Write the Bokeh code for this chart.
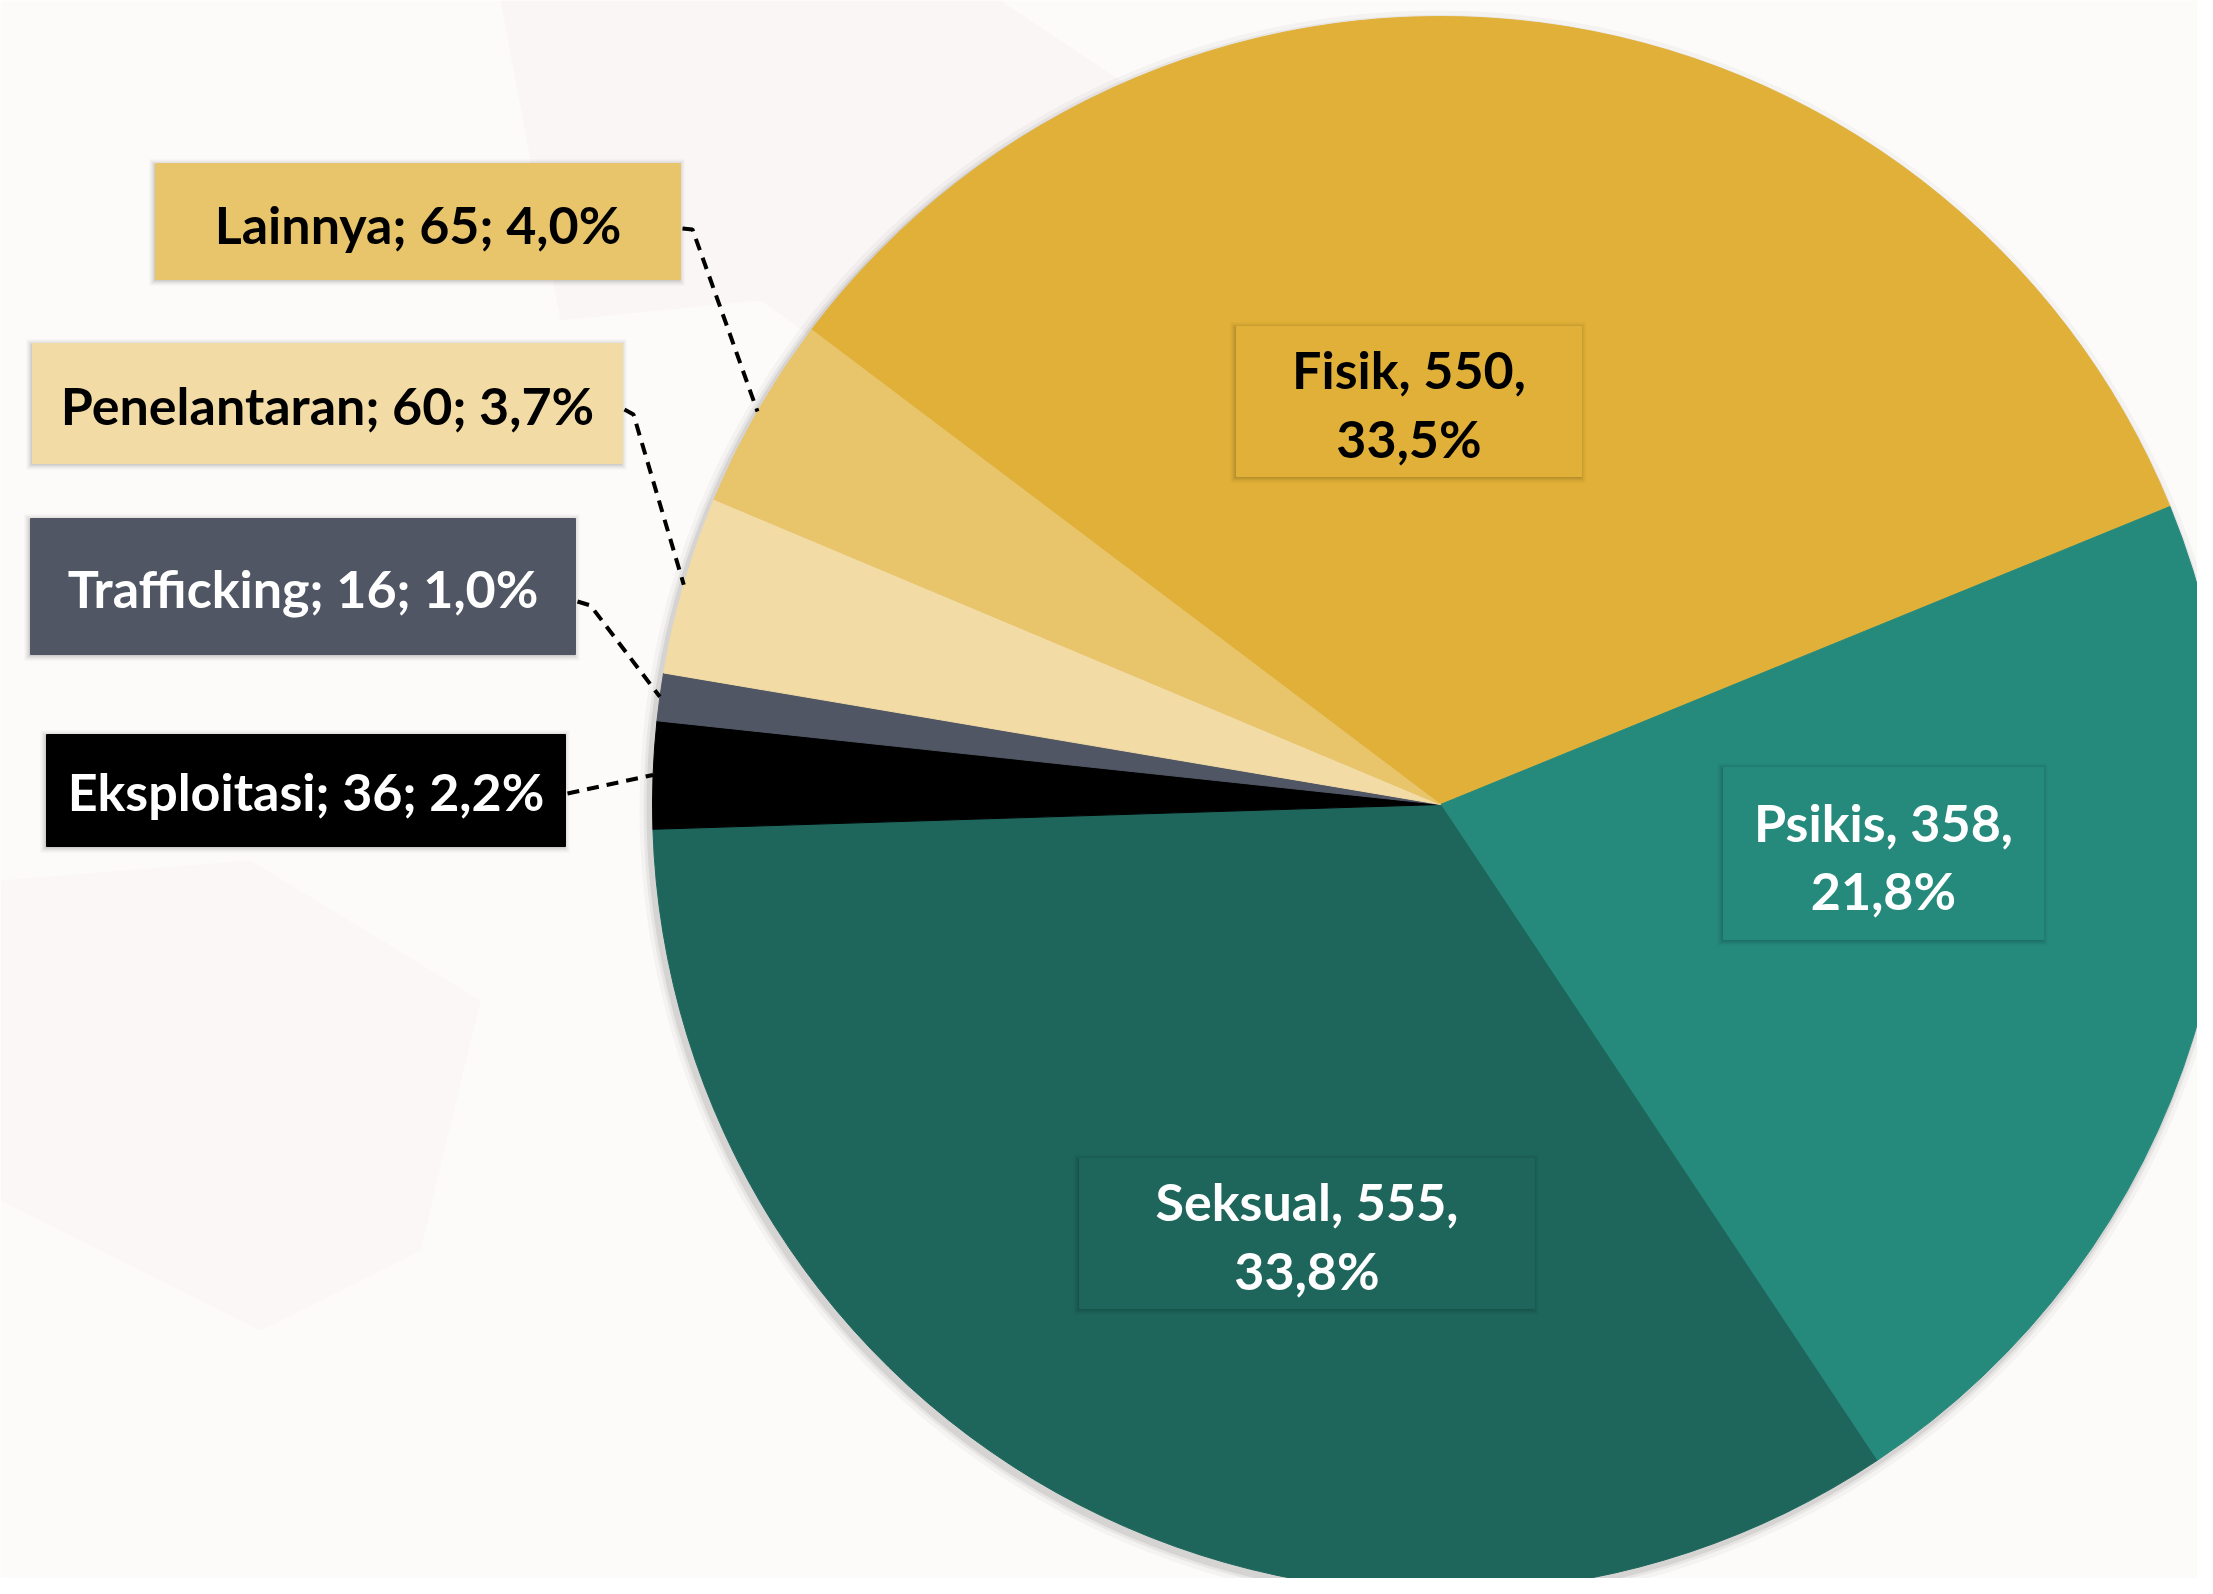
import math
from bokeh.plotting import figure
from bokeh.models import ColumnDataSource
from bokeh.core.properties import value
from bokeh.embed import file_html
from bokeh.resources import INLINE

# ---------------- data ----------------
categories = ["Fisik", "Psikis", "Seksual", "Eksploitasi", "Trafficking", "Penelantaran", "Lainnya"]
counts = [550, 358, 555, 36, 16, 60, 65]
pct_labels = ["33,5%", "21,8%", "33,8%", "2,2%", "1,0%", "3,7%", "4,0%"]
colors = ["#E0B038", "#258A7C", "#1E665C", "#000000", "#505664", "#F2DBA4", "#E8C46B"]
text_colors = ["#000000", "#FFFFFF", "#FFFFFF", "#FFFFFF", "#FFFFFF", "#000000", "#000000"]

# ---------------- layout (screen pixels) ----------------
FW, FH = 2197, 1578
CX, CY, R = 1440, 804, 788
FIRST_ANGLE = math.radians(142.95)   # start of first slice, slices run clockwise
FONT = "Lato"
FSIZE = "52px"
BASE_SHIFT = -19   # correction for where the renderer puts the baseline

# inside labels: box (l, t, r, b), baselines of the two lines
inside = {
    "Fisik":   dict(box=(1236, 326, 1581, 476), base=(387, 456)),
    "Psikis":  dict(box=(1723, 767, 2043, 939), base=(840, 908)),
    "Seksual": dict(box=(1079, 1158, 1534, 1308), base=(1219, 1288)),
}
# outside labels: box, baseline, leader start y, elbow offset
outside = {
    "Lainnya":      dict(box=(155, 163, 680, 279), base=242, ly=228, elbow=(10, 1)),
    "Penelantaran": dict(box=(32, 343, 622, 463), base=423, ly=409, elbow=(9, 5)),
    "Trafficking":  dict(box=(30, 518, 575, 654), base=606, ly=601, elbow=(13, 4)),
    "Eksploitasi":  dict(box=(46, 734, 565, 846), base=809, ly=793, elbow=(0, 0)),
}


def Y(y):
    return FH - y


p = figure(width=FW, height=FH, x_range=(0, FW), y_range=(0, FH),
           output_backend="svg", toolbar_location=None, min_border=0)
p.axis.visible = False
p.grid.visible = False
p.outline_line_color = None
p.background_fill_color = "#FDFBFA"
p.border_fill_color = "#FDFBFA"

# very faint background shapes (washed-out photo)
p.patch([500, 800, 1000, 1180, 1080, 900, 760, 560], [Y(0), Y(0), Y(0), Y(120), Y(330), Y(400), Y(300), Y(320)],
        fill_color="#F6F3F2", fill_alpha=0.6, line_color=None)
p.patch([0, 250, 480, 420, 260, 0], [Y(880), Y(860), Y(1000), Y(1250), Y(1330), Y(1200)],
        fill_color="#F8F5F4", fill_alpha=0.6, line_color=None)

# ---------------- pie shadow ----------------
for d, a in [(10, 0.03), (6, 0.05), (3, 0.08)]:
    p.circle(x=[CX - 3], y=[Y(CY + 4)], radius=R + d, fill_color="black", fill_alpha=a, line_color=None)

# ---------------- pie ----------------
total = sum(counts)
starts, ends, mids = [], [], []
cum = 0
for c in counts:
    a0 = FIRST_ANGLE - 2 * math.pi * cum / total
    cum += c
    a1 = FIRST_ANGLE - 2 * math.pi * cum / total
    starts.append(a1)
    ends.append(a0)
    mids.append((a0 + a1) / 2)

src = ColumnDataSource(dict(x=[CX] * len(counts), y=[Y(CY)] * len(counts),
                            start=starts, end=ends, color=colors))
p.wedge(x="x", y="y", radius=R, start_angle="start", end_angle="end", direction="anticlock",
        fill_color="color", line_color="color", line_width=1, source=src)


def shadow_box(l, t, r, b):
    for d, a in [(6, 0.04), (4, 0.06), (2, 0.09)]:
        p.quad(left=l - d, right=r + d - 2, top=Y(t - d + 2), bottom=Y(b + d),
               fill_color="black", fill_alpha=a, line_color=None)


# ---------------- inside labels ----------------
for i, cat in enumerate(categories):
    if cat not in inside:
        continue
    info = inside[cat]
    l, t, r, b = info["box"]
    shadow_box(l, t, r, b)
    p.quad(left=l, right=r, top=Y(t), bottom=Y(b), fill_color=colors[i],
           line_color=colors[i], line_width=1)
    cxl = (l + r) / 2
    lines = [f"{cat}, {counts[i]},", pct_labels[i]]
    p.text(x=[cxl, cxl], y=[Y(info["base"][0] + BASE_SHIFT), Y(info["base"][1] + BASE_SHIFT)], text=lines,
           text_align="center", text_baseline="alphabetic", text_color=text_colors[i],
           text_font=value(FONT), text_font_style="bold", text_font_size=FSIZE)

# ---------------- outside labels with leader lines ----------------
for i, cat in enumerate(categories):
    if cat not in outside:
        continue
    info = outside[cat]
    l, t, r, b = info["box"]
    ex = CX + R * math.cos(mids[i])
    ey = CY - R * math.sin(mids[i])
    sx0, sy0 = r + 2, info["ly"]
    exo, eyo = info["elbow"]
    xs = [sx0, sx0 + exo, ex]
    ys = [Y(sy0), Y(sy0 + eyo), Y(ey)]
    p.line(xs, ys, line_color="black", line_width=4, line_dash="12 8")
    shadow_box(l, t, r, b)
    p.quad(left=l, right=r, top=Y(t), bottom=Y(b), fill_color=colors[i],
           line_color=colors[i], line_width=1)
    label = f"{cat}; {counts[i]}; {pct_labels[i]}"
    p.text(x=[(l + r) / 2], y=[Y(info["base"] + BASE_SHIFT)], text=[label],
           text_align="center", text_baseline="alphabetic", text_color=text_colors[i],
           text_font=value(FONT), text_font_style="bold", text_font_size=FSIZE)

open("out.html", "w").write(file_html(p, INLINE))
